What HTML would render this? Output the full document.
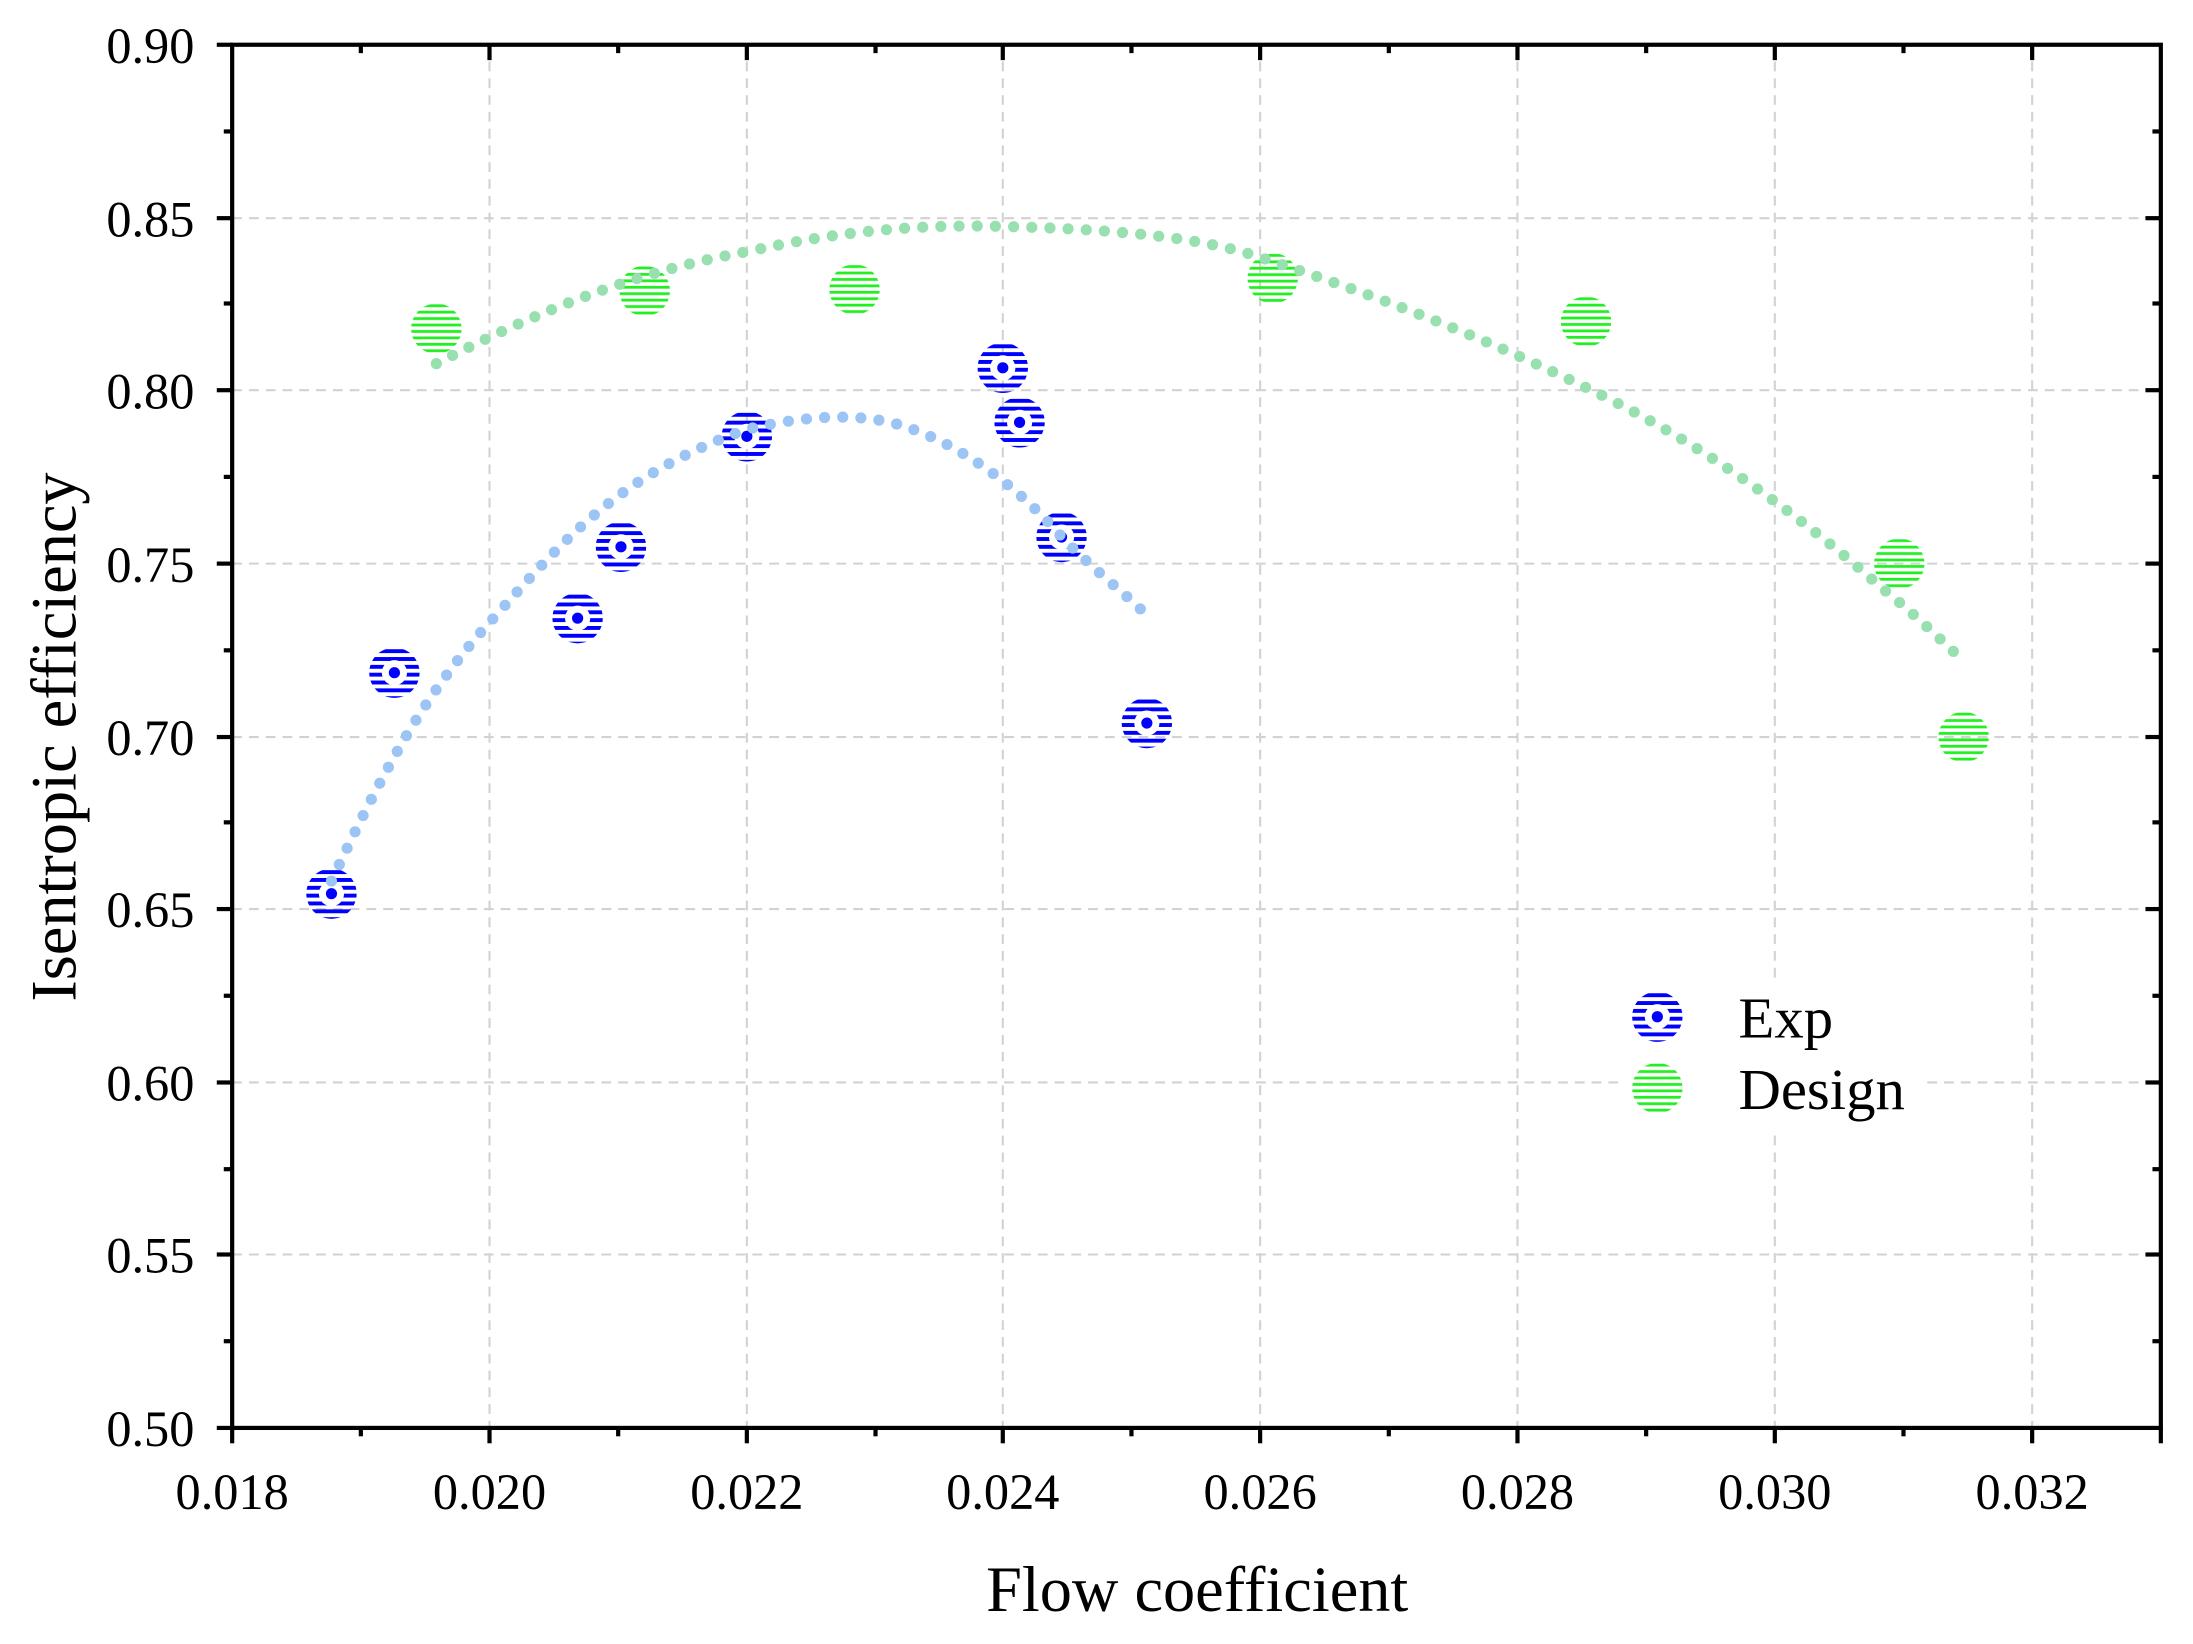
<!DOCTYPE html>
<html><head><meta charset="utf-8"><style>
html,body{margin:0;padding:0;background:#fff;}
svg{display:block;}
text{font-family:"Liberation Serif",serif;fill:#000;}
</style></head><body>
<svg width="2193" height="1644" viewBox="0 0 1568 1175.5" preserveAspectRatio="none" xmlns="http://www.w3.org/2000/svg">
<defs>
<pattern id="pb" width="6" height="5.6" patternUnits="userSpaceOnUse"><rect x="0" y="0" width="6" height="2.8" fill="#0000ff"/></pattern>
<pattern id="pg" width="6" height="4.6" patternUnits="userSpaceOnUse"><rect x="0" y="1" width="6" height="2" fill="#22ee22"/></pattern>
<g id="exp"><circle r="18" fill="url(#pb)"/><circle r="9" fill="#fff"/><circle r="4" fill="#0000ff"/></g>
<g id="des"><circle r="18" fill="url(#pg)"/></g>
</defs>
<g stroke="#d2d2d2" stroke-width="1.5" stroke-dasharray="7 5" fill="none">
<line x1="350" y1="32" x2="350" y2="1021"/><line x1="534" y1="32" x2="534" y2="1021"/><line x1="717" y1="32" x2="717" y2="1021"/><line x1="901" y1="32" x2="901" y2="1021"/><line x1="1085" y1="32" x2="1085" y2="1021"/><line x1="1269" y1="32" x2="1269" y2="1021"/><line x1="1453" y1="32" x2="1453" y2="1021"/>
<line x1="166" y1="156" x2="1545" y2="156"/><line x1="166" y1="279" x2="1545" y2="279"/><line x1="166" y1="403" x2="1545" y2="403"/><line x1="166" y1="527" x2="1545" y2="527"/><line x1="166" y1="650" x2="1545" y2="650"/><line x1="166" y1="774" x2="1545" y2="774"/><line x1="166" y1="897" x2="1545" y2="897"/>
</g>
<rect x="1160" y="700" width="215" height="108" fill="#fff"/>
<use href="#exp" x="237" y="639"/><use href="#exp" x="282" y="481"/><use href="#exp" x="413" y="442"/><use href="#exp" x="444" y="391"/><use href="#exp" x="534" y="312"/><use href="#exp" x="717" y="263"/><use href="#exp" x="729" y="302"/><use href="#exp" x="759" y="384"/><use href="#exp" x="820" y="517"/>
<use href="#des" x="312" y="235"/><use href="#des" x="461" y="208"/><use href="#des" x="611" y="207"/><use href="#des" x="910" y="199"/><use href="#des" x="1134" y="230"/><use href="#des" x="1358" y="403"/><use href="#des" x="1404" y="527"/>
<path d="M237,630 C270,560 300,500 351,444 C400,390 440,340 534,307 C580,296 620,295 650,306 C690,320 730,350 760,385 C785,410 805,425 817,437" fill="none" stroke="#9cc4f4" stroke-width="8" stroke-linecap="round" stroke-dasharray="0 13"/>
<path d="M312,260 C380,225 450,195 534,180 C600,165 660,160 720,162 C800,164 860,170 901,184 C980,210 1060,240 1150,285 C1230,325 1300,380 1345,420 C1370,440 1385,455 1398,467" fill="none" stroke="#98e0b0" stroke-width="8" stroke-linecap="round" stroke-dasharray="0 13"/>
<rect x="166" y="32" width="1379" height="989" fill="none" stroke="#000" stroke-width="3"/>
<g stroke="#000" stroke-width="3">
<line x1="166" y1="1021" x2="166" y2="1032"/><line x1="350" y1="1021" x2="350" y2="1032"/><line x1="534" y1="1021" x2="534" y2="1032"/><line x1="717" y1="1021" x2="717" y2="1032"/><line x1="901" y1="1021" x2="901" y2="1032"/><line x1="1085" y1="1021" x2="1085" y2="1032"/><line x1="1269" y1="1021" x2="1269" y2="1032"/><line x1="1453" y1="1021" x2="1453" y2="1032"/><line x1="1545" y1="1021" x2="1545" y2="1032"/>
<line x1="258" y1="1021" x2="258" y2="1027"/><line x1="442" y1="1021" x2="442" y2="1027"/><line x1="626" y1="1021" x2="626" y2="1027"/><line x1="809" y1="1021" x2="809" y2="1027"/><line x1="993" y1="1021" x2="993" y2="1027"/><line x1="1177" y1="1021" x2="1177" y2="1027"/><line x1="1361" y1="1021" x2="1361" y2="1027"/>
<line x1="350" y1="32" x2="350" y2="43"/><line x1="534" y1="32" x2="534" y2="43"/><line x1="717" y1="32" x2="717" y2="43"/><line x1="901" y1="32" x2="901" y2="43"/><line x1="1085" y1="32" x2="1085" y2="43"/><line x1="1269" y1="32" x2="1269" y2="43"/><line x1="1453" y1="32" x2="1453" y2="43"/>
<line x1="258" y1="32" x2="258" y2="38"/><line x1="442" y1="32" x2="442" y2="38"/><line x1="626" y1="32" x2="626" y2="38"/><line x1="809" y1="32" x2="809" y2="38"/><line x1="993" y1="32" x2="993" y2="38"/><line x1="1177" y1="32" x2="1177" y2="38"/><line x1="1361" y1="32" x2="1361" y2="38"/>
</g>
<g stroke="#000" stroke-width="3">
<line x1="155" y1="32" x2="166" y2="32"/><line x1="155" y1="156" x2="166" y2="156"/><line x1="155" y1="279" x2="166" y2="279"/><line x1="155" y1="403" x2="166" y2="403"/><line x1="155" y1="527" x2="166" y2="527"/><line x1="155" y1="650" x2="166" y2="650"/><line x1="155" y1="774" x2="166" y2="774"/><line x1="155" y1="897" x2="166" y2="897"/><line x1="155" y1="1021" x2="166" y2="1021"/>
<line x1="160" y1="94" x2="166" y2="94"/><line x1="160" y1="217" x2="166" y2="217"/><line x1="160" y1="341" x2="166" y2="341"/><line x1="160" y1="465" x2="166" y2="465"/><line x1="160" y1="588" x2="166" y2="588"/><line x1="160" y1="712" x2="166" y2="712"/><line x1="160" y1="836" x2="166" y2="836"/><line x1="160" y1="959" x2="166" y2="959"/>
<line x1="1534" y1="156" x2="1545" y2="156"/><line x1="1534" y1="279" x2="1545" y2="279"/><line x1="1534" y1="403" x2="1545" y2="403"/><line x1="1534" y1="527" x2="1545" y2="527"/><line x1="1534" y1="650" x2="1545" y2="650"/><line x1="1534" y1="774" x2="1545" y2="774"/><line x1="1534" y1="897" x2="1545" y2="897"/>
<line x1="1539" y1="94" x2="1545" y2="94"/><line x1="1539" y1="217" x2="1545" y2="217"/><line x1="1539" y1="341" x2="1545" y2="341"/><line x1="1539" y1="465" x2="1545" y2="465"/><line x1="1539" y1="588" x2="1545" y2="588"/><line x1="1539" y1="712" x2="1545" y2="712"/><line x1="1539" y1="836" x2="1545" y2="836"/><line x1="1539" y1="959" x2="1545" y2="959"/>
</g>
<g font-size="36" text-anchor="end">
<text x="139" y="45">0.90</text><text x="139" y="169">0.85</text><text x="139" y="292">0.80</text><text x="139" y="416">0.75</text><text x="139" y="540">0.70</text><text x="139" y="663">0.65</text><text x="139" y="787">0.60</text><text x="139" y="910">0.55</text><text x="139" y="1034">0.50</text>
</g>
<g font-size="36" text-anchor="middle">
<text x="166" y="1079">0.018</text><text x="350" y="1079">0.020</text><text x="534" y="1079">0.022</text><text x="717" y="1079">0.024</text><text x="901" y="1079">0.026</text><text x="1085" y="1079">0.028</text><text x="1269" y="1079">0.030</text><text x="1453" y="1079">0.032</text>
</g>
<text x="856" y="1152" font-size="46" text-anchor="middle">Flow coefficient</text>
<text transform="translate(54,527) rotate(-90)" font-size="46" text-anchor="middle">Isentropic efficiency</text>
<use href="#exp" x="1185" y="727"/><use href="#des" x="1185" y="778"/>
<text x="1243" y="742" font-size="42">Exp</text>
<text x="1243" y="793" font-size="42">Design</text>
</svg>
</body></html>
